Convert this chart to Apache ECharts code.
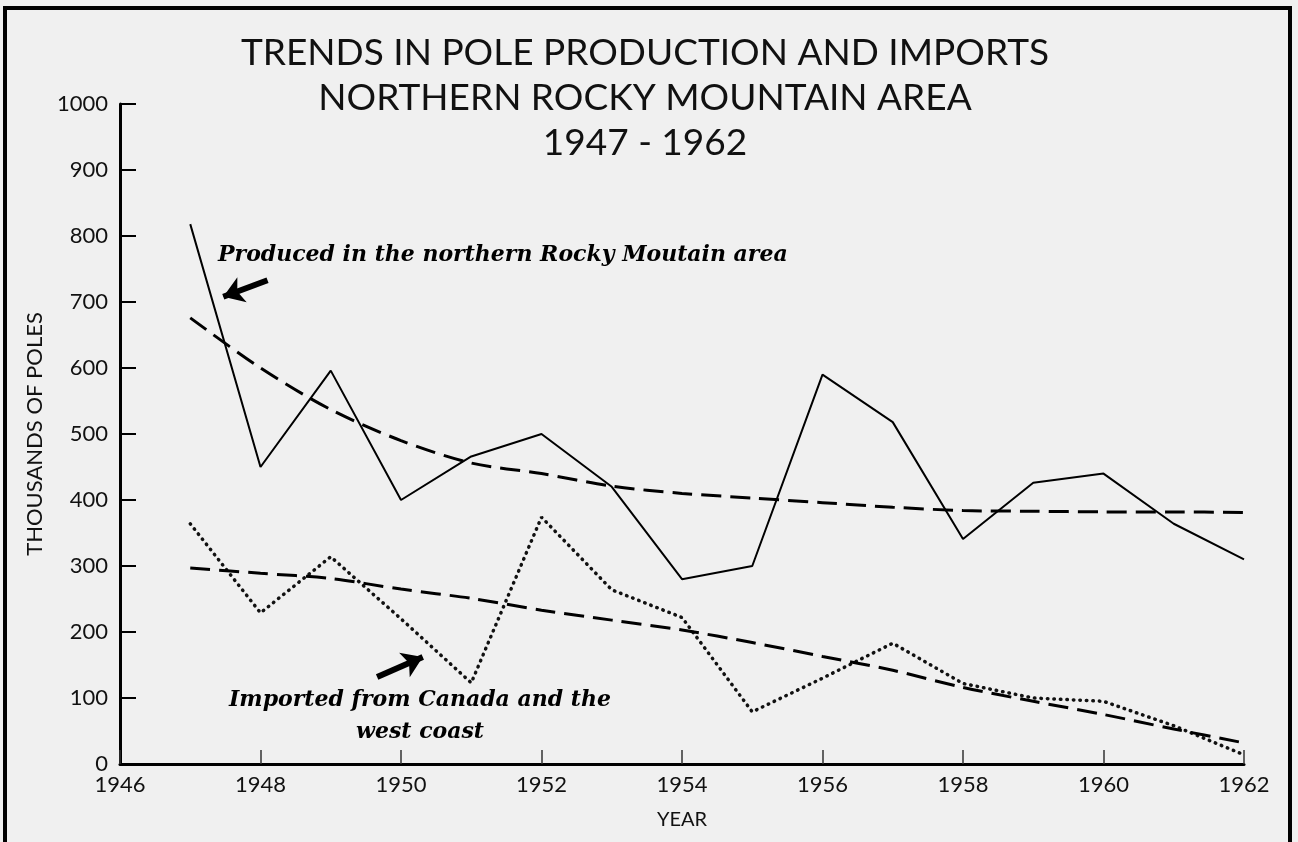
<!DOCTYPE html>
<html>
<head>
<meta charset="utf-8">
<title>Trends in pole production and imports</title>
<script src="https://cdn.jsdelivr.net/npm/echarts@6/dist/echarts.min.js"></script>
<style>
  html, body { margin: 0; padding: 0; background: #f0f0f0; }
  #chart { width: 1298px; height: 842px; }
</style>
</head>
<body>
<div id="chart"></div>
<script>
// values (thousands of poles)
var years = [1947, 1948, 1949, 1950, 1951, 1952, 1953, 1954, 1955, 1956, 1957, 1958, 1959, 1960, 1961, 1962];
var produced = [818, 450, 596, 400, 466, 500, 420, 280, 300, 590, 518, 341, 426, 440, 364, 310];
var imported = [364, 229, 314, 220, 123, 374, 264, 222, 79, 130, 183, 122, 100, 95, 58, 14];
var producedTrend = [676, 600, 537, 490, 456, 440, 421, 410, 403, 396, 389, 384, 383, 382, 382, 381];
var importedTrend = [297, 289, 281, 265, 251, 233, 218, 203, 184, 163, 142, 116, 95, 75, 53, 32];
var yearTicks = [1946, 1948, 1950, 1952, 1954, 1956, 1958, 1960, 1962];

// arrow annotations, [year, value] tail -> head
var arrowProduced = [[1948.1, 733], [1947.47, 708]];
var arrowImported = [[1949.66, 132], [1950.31, 162]];

function pairs(vals) {
    return years.map(function (y, i) { return [y, vals[i]]; });
}

var font = 'Lato';
var chart = echarts.init(document.getElementById('chart'));

var option = {
    animation: false,
    backgroundColor: '#f0f0f0',
    title: {
        text: 'TRENDS IN POLE PRODUCTION AND IMPORTS\nNORTHERN ROCKY MOUNTAIN AREA\n1947 - 1962',
        left: 640,
        top: 26,
        textAlign: 'center',
        textStyle: {
            fontFamily: font,
            fontSize: 37,
            fontWeight: 'normal',
            color: '#111',
            lineHeight: 45
        }
    },
    grid: { left: 120, right: 54, top: 104, bottom: 78 },
    xAxis: {
        type: 'value',
        min: 1946,
        max: 1962,
        interval: 2,
        name: 'YEAR',
        nameLocation: 'middle',
        nameGap: 46,
        nameTextStyle: { fontFamily: font, fontSize: 20, color: '#111' },
        axisLine: { lineStyle: { color: '#000', width: 3 } },
        axisTick: { inside: true, length: 14, lineStyle: { color: '#333', width: 1.5 } },
        axisLabel: {
            fontFamily: font, fontSize: 22, color: '#111', margin: 10,
            formatter: function (v) { return yearTicks.indexOf(v) >= 0 ? String(v) : ''; }
        },
        splitLine: { show: false }
    },
    yAxis: {
        type: 'value',
        min: 0,
        max: 1000,
        interval: 100,
        name: 'THOUSANDS OF POLES',
        nameLocation: 'middle',
        nameGap: 72,
        nameTextStyle: { fontFamily: font, fontSize: 22, color: '#111' },
        axisLine: { show: true, lineStyle: { color: '#000', width: 3 } },
        axisTick: { show: true, inside: true, length: 16, lineStyle: { color: '#000', width: 2 } },
        axisLabel: {
            fontFamily: font, fontSize: 22, color: '#111', margin: 12,
            formatter: function (v) { return String(v); }
        },
        splitLine: { show: false }
    },
    graphic: [
        {
            type: 'rect',
            shape: { x: 5, y: 8, width: 1285, height: 860 },
            style: { fill: 'none', stroke: '#000', lineWidth: 4 },
            silent: true
        },
        {
            type: 'text',
            x: 218, y: 255,
            style: {
                text: 'Produced in the northern Rocky Moutain area',
                font: 'italic bold 22px "DejaVu Serif"',
                fill: '#000',
                verticalAlign: 'middle'
            },
            silent: true
        },
        {
            type: 'text',
            x: 420, y: 716,
            style: {
                text: 'Imported from Canada and the\nwest coast',
                font: 'italic bold 22px "DejaVu Serif"',
                fill: '#000',
                align: 'center',
                verticalAlign: 'middle',
                lineHeight: 32
            },
            silent: true
        }
    ],
    series: [
        {
            name: 'Produced',
            type: 'line',
            data: pairs(produced),
            showSymbol: false,
            lineStyle: { color: '#000', width: 2 },
            markLine: {
                silent: true,
                symbol: ['none', 'arrow'],
                symbolSize: 20,
                label: { show: false },
                lineStyle: { color: '#000', width: 6, type: 'solid' },
                data: [[{ coord: arrowProduced[0] }, { coord: arrowProduced[1] }]]
            }
        },
        {
            name: 'Produced trend',
            type: 'line',
            data: pairs(producedTrend),
            smooth: 0.3,
            showSymbol: false,
            lineStyle: { color: '#000', width: 3, type: [20, 9] }
        },
        {
            name: 'Imported',
            type: 'line',
            data: pairs(imported),
            showSymbol: false,
            lineStyle: { color: '#111', width: 3.5, type: [0.5, 6], cap: 'round' },
            markLine: {
                silent: true,
                symbol: ['none', 'arrow'],
                symbolSize: 20,
                label: { show: false },
                lineStyle: { color: '#000', width: 6, type: 'solid' },
                data: [[{ coord: arrowImported[0] }, { coord: arrowImported[1] }]]
            }
        },
        {
            name: 'Imported trend',
            type: 'line',
            data: pairs(importedTrend),
            smooth: 0.3,
            showSymbol: false,
            lineStyle: { color: '#000', width: 3, type: [20, 9] }
        }
    ]
};

chart.setOption(option);
</script>
</body>
</html>
